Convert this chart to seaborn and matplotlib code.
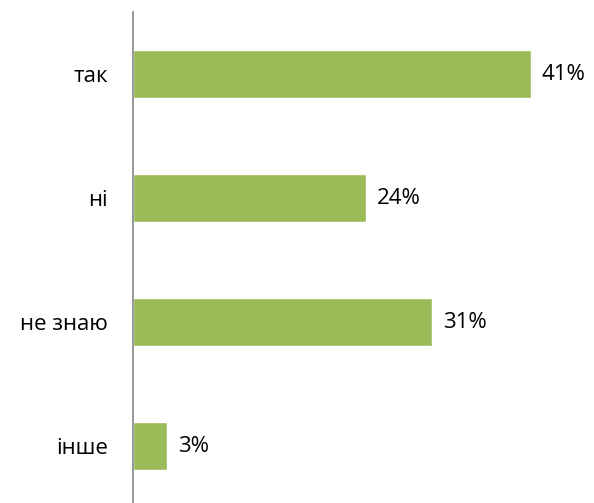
import matplotlib
matplotlib.use("Agg")
import matplotlib.pyplot as plt
import seaborn as sns
import pandas as pd

categories = ["так", "ні", "не знаю", "інше"]
values = [41, 24, 30.8, 3.5]
value_labels = ["41%", "24%", "31%", "3%"]

sns.set_theme(style="white")
plt.rcParams['font.family'] = ['Open Sans', 'DejaVu Sans']

df = pd.DataFrame({"cat": categories, "val": values})

W, H = 594, 503
fig = plt.figure(figsize=(W / 100, H / 100), dpi=100)
left = 133 / W
top = 12
bottom = 508
ax = fig.add_axes([left, (H - bottom) / H, (589 - 133) / W, (bottom - top) / H])

sns.barplot(data=df, x="val", y="cat", orient="h", color="#9BBB59",
            saturation=1, width=0.395, ax=ax)

ax.set_xlim(0, 47)
ax.set_ylim(3.5, -0.5)
ax.set_xlabel("")
ax.set_ylabel("")
ax.set_xticks([])
for s in ["top", "right", "bottom"]:
    ax.spines[s].set_visible(False)
ax.spines["left"].set_color("#868686")
ax.spines["left"].set_linewidth(1.2)
ax.tick_params(axis="y", length=0, pad=18, labelsize=16, labelcolor="black")

for i, (v, lab) in enumerate(zip(values, value_labels)):
    ax.annotate(lab, (v, i), xytext=(8, 0), textcoords="offset points",
                va="center", ha="left", fontsize=16, color="black")

fig.savefig("out.png", dpi=100)
